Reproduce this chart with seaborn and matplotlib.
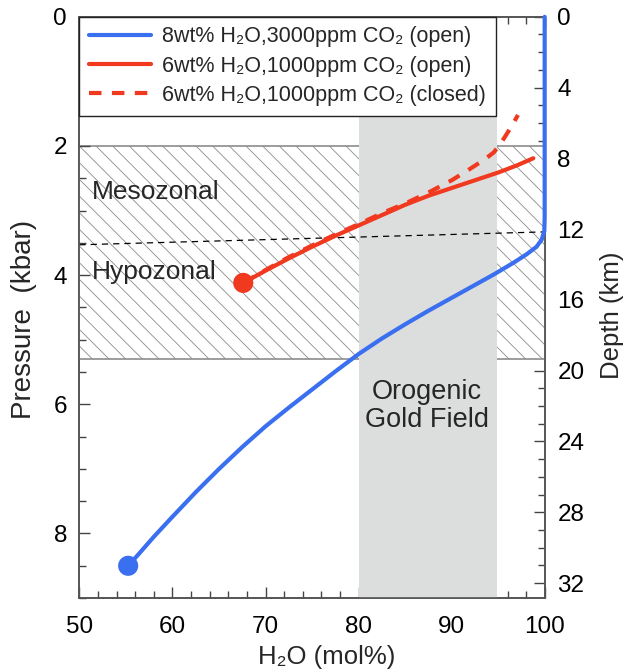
import numpy as np
import pandas as pd
import seaborn as sns
import matplotlib.pyplot as plt
from matplotlib.patches import Rectangle
from matplotlib.ticker import MultipleLocator

### data (x = H2O mol%, y = pressure kbar)
blue_x = [55.24, 56.3, 58.0, 60.0, 62.5, 65.0, 67.5, 70.0, 72.5, 75.0, 77.5, 80.0,
          82.5, 85.0, 87.5, 90.0, 92.5, 94.5, 96.6, 98.0, 99.1, 99.65, 99.93,
          99.97, 99.97]
blue_p = [8.50, 8.33, 8.05, 7.74, 7.36, 7.00, 6.66, 6.34, 6.05, 5.77, 5.49, 5.22,
          4.98, 4.76, 4.55, 4.35, 4.15, 3.99, 3.81, 3.68, 3.56, 3.45, 3.32,
          3.09, 0.0]

red_x = [67.6, 70.0, 72.5, 75.0, 77.5, 80.0, 82.5, 85.0, 87.5, 90.0, 92.5, 95.0,
         97.0, 98.75]
red_p = [4.12, 3.93, 3.74, 3.56, 3.39, 3.23, 3.07, 2.91, 2.77, 2.65, 2.53, 2.41,
         2.30, 2.19]

dash_x = [67.6, 70.0, 72.5, 75.0, 77.5, 80.0, 82.5, 85.0, 87.5, 90.0, 92.0, 93.5,
          94.5, 95.3, 96.0, 96.6, 97.1]
dash_p = [4.12, 3.92, 3.72, 3.54, 3.37, 3.21, 3.04, 2.89, 2.72, 2.53, 2.35, 2.21,
          2.10, 1.95, 1.79, 1.65, 1.52]

start_x = [55.24, 67.6]
start_p = [8.50, 4.12]

boundary_x = [50, 100]
boundary_p = [3.53, 3.33]

zone_p = [2.0, 5.3]        # hatched meso/hypozonal band
gold_x = [80.0, 94.8]      # orogenic gold field
km_per_kbar = 3.65

labels = ["8wt% H\u2082O,3000ppm CO\u2082 (open)",
          "6wt% H\u2082O,1000ppm CO\u2082 (open)",
          "6wt% H\u2082O,1000ppm CO\u2082 (closed)"]

blue = "#3a6ff0"
red = "#f0391f"

sns.set_theme(style="ticks")
plt.rcParams['font.family'] = ['Liberation Sans', 'DejaVu Sans']
plt.rcParams['hatch.linewidth'] = 0.6
plt.rcParams['hatch.color'] = '#a8a8a8'

fig = plt.figure(figsize=(6.3, 6.72), dpi=100)
ax = fig.add_axes([0.126, 0.110, 0.739, 0.865])

# background zones
ax.add_patch(Rectangle((50, zone_p[0]), 50, zone_p[1] - zone_p[0], facecolor='white',
                       edgecolor='#8c8c8c', hatch='\\\\', linewidth=1.2, zorder=0))
ax.axvspan(gold_x[0], gold_x[1], color='#dcdddd', zorder=1, linewidth=0)

ax.plot(boundary_x, boundary_p, color='black', linestyle=(0, (5, 4)), linewidth=0.9, zorder=2)

df_blue = pd.DataFrame({'x': blue_x, 'p': blue_p})
df_red = pd.DataFrame({'x': red_x, 'p': red_p})
df_dash = pd.DataFrame({'x': dash_x, 'p': dash_p})

sns.lineplot(data=df_blue, x='x', y='p', sort=False, estimator=None, color=blue,
             linewidth=3, ax=ax, label=labels[0], zorder=4, clip_on=False)
sns.lineplot(data=df_red, x='x', y='p', sort=False, estimator=None, color=red,
             linewidth=3, ax=ax, label=labels[1], zorder=4)
sns.lineplot(data=df_dash, x='x', y='p', sort=False, estimator=None, color=red,
             linewidth=3, linestyle=(0, (3, 2.5)), ax=ax, label=labels[2], zorder=3)
sns.scatterplot(x=start_x, y=start_p, hue=[0, 1], palette=[blue, red], s=210,
                edgecolor='none', legend=False, ax=ax, zorder=5)

ax.text(51.3, 2.72, "Mesozonal", fontsize=19, ha='left', va='center', zorder=6)
ax.text(51.3, 3.95, "Hypozonal", fontsize=19, ha='left', va='center', zorder=6)
ax.text(87.3, 6.02, "Orogenic\nGold Field", fontsize=19.5, ha='center', va='center',
        linespacing=1.1, zorder=6)

ax.set_xlim(50, 100)
ax.set_ylim(9, 0)
ax.xaxis.set_major_locator(MultipleLocator(10))
ax.xaxis.set_minor_locator(MultipleLocator(2))
ax.yaxis.set_major_locator(MultipleLocator(2))
ax.yaxis.set_minor_locator(MultipleLocator(0.5))
ax.set_xlabel("H\u2082O (mol%)", fontsize=18.5)
ax.set_ylabel("Pressure  (kbar)", fontsize=20)
ax.xaxis.set_label_coords(0.532, -0.0815)
ax.yaxis.set_label_coords(-0.09, 0.479)
ax.tick_params(which='both', direction='in', top=True, right=False, colors='#444444',
               labelcolor='black', labelsize=17.5, width=1)
ax.tick_params(axis='x', which='major', length=8, pad=13)
ax.tick_params(axis='y', which='major', length=8, pad=9)
ax.tick_params(which='minor', length=5)

ax2 = ax.twinx()
ax2.set_ylim(9 * km_per_kbar, 0)
ax2.yaxis.set_major_locator(MultipleLocator(4))
ax2.yaxis.set_minor_locator(MultipleLocator(1))
ax2.set_ylabel("Depth (km)", fontsize=18.5)
ax2.yaxis.set_label_coords(1.118, 0.487)
ax2.tick_params(which='both', direction='in', colors='#444444', labelcolor='black',
                labelsize=17.5, width=1)
ax2.tick_params(which='major', length=8, pad=9)
ax2.tick_params(which='minor', length=5)

for a in (ax, ax2):
    for s in a.spines.values():
        s.set_color('#555555')
        s.set_linewidth(1.2)

leg = ax.legend(loc='upper left', borderaxespad=0, fontsize=15.5, frameon=True,
                fancybox=False, framealpha=1, edgecolor='#222222', handlelength=2.9,
                handletextpad=0.5, borderpad=0.45, labelspacing=0.38)
leg.get_frame().set_linewidth(1.0)
leg.set_zorder(10)
ax.set_zorder(ax2.get_zorder() + 1)
ax.patch.set_visible(False)

fig.savefig("out.png", dpi=100)
